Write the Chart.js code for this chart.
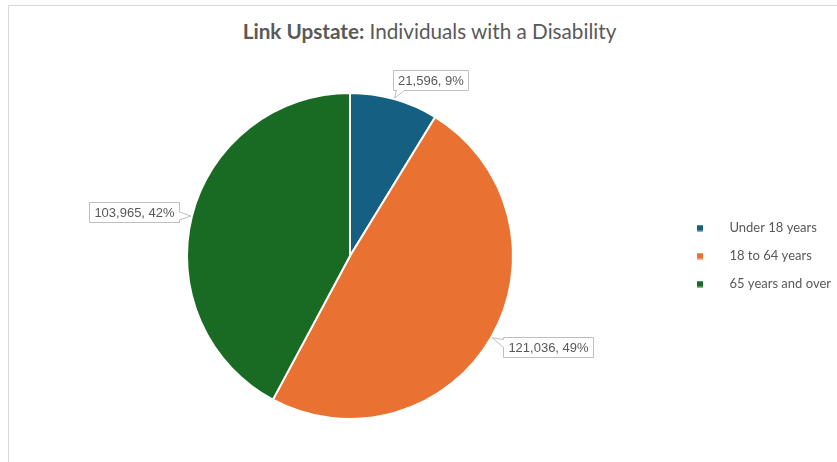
<!DOCTYPE html>
<html>
<head>
<meta charset="utf-8">
<script src="https://cdn.jsdelivr.net/npm/chart.js@4.4.1/dist/chart.umd.min.js"></script>
<style>
  html, body { margin: 0; padding: 0; background: #ffffff; overflow: hidden; }
  #wrap { position: relative; width: 837px; height: 462px; overflow: hidden; }
  #frame { position: absolute; left: 8px; top: 5px; width: 900px; height: 520px;
           border: 1.5px solid #d9d9d9; box-sizing: border-box; }
  #title { position: absolute; left: 0; top: 19px; width: 859px; text-align: center;
           font-family: "Lato", "Open Sans", sans-serif; font-size: 20.7px; color: #595959;
           white-space: nowrap; }
  #title b { font-weight: 700; }
  #chart { position: absolute; left: 0; top: 0; }
</style>
</head>
<body>
<div id="wrap">
  <div id="frame"></div>
  <div id="title"><b>Link Upstate:</b> Individuals with a Disability</div>
  <canvas id="chart" width="837" height="462"></canvas>
</div>
<script>
// ---- data ----
const categories = ['Under 18 years', '18 to 64 years', '65 years and over'];
const values = [21596, 121036, 103965];

// ---- styling ----
const sliceColors = ['#156082', '#E97132', '#196B24'];
// callout box centre offsets from the slice's outer-edge midpoint (pixels)
const calloutOffsets = [[36, -18.5], [55.5, 9], [-57, -4.5]];

function legendSwatch(color) {
  const c = document.createElement('canvas');
  c.width = 26; c.height = 7;
  const g = c.getContext('2d');
  g.fillStyle = color;
  g.fillRect(0, 0.5, 6, 6);
  return c;
}
const swatches = sliceColors.map(legendSwatch);

function clamp(v, a, b) { return Math.max(a, Math.min(b, v)); }

function calloutPath(ctx, L, T, R, B, tx, ty) {
  const dxOut = tx < L ? L - tx : (tx > R ? tx - R : 0);
  const dyOut = ty < T ? T - ty : (ty > B ? ty - B : 0);
  let side;
  if (dxOut >= dyOut) side = tx < L ? 'left' : 'right';
  else side = ty < T ? 'top' : 'bottom';
  const hw = 4;
  ctx.beginPath();
  ctx.moveTo(L, T);
  if (side === 'top') { const c = clamp(tx, L + hw + 3, R - hw - 3); ctx.lineTo(c - hw, T); ctx.lineTo(tx, ty); ctx.lineTo(c + hw, T); }
  ctx.lineTo(R, T);
  if (side === 'right') { const c = clamp(ty, T + hw + 2, B - hw - 2); ctx.lineTo(R, c - hw); ctx.lineTo(tx, ty); ctx.lineTo(R, c + hw); }
  ctx.lineTo(R, B);
  if (side === 'bottom') { const c = clamp(tx, L + hw + 3, R - hw - 3); ctx.lineTo(c + hw, B); ctx.lineTo(tx, ty); ctx.lineTo(c - hw, B); }
  ctx.lineTo(L, B);
  if (side === 'left') { const c = clamp(ty, T + hw + 2, B - hw - 2); ctx.lineTo(L, c + hw); ctx.lineTo(tx, ty); ctx.lineTo(L, c - hw); }
  ctx.closePath();
}

const calloutPlugin = {
  id: 'callouts',
  afterDatasetsDraw(chart) {
    const ctx = chart.ctx;
    const ds = chart.data.datasets[0];
    const total = ds.data.reduce((a, b) => a + b, 0);
    const meta = chart.getDatasetMeta(0);
    ctx.save();
    ctx.font = '13px "Liberation Sans", Arial, sans-serif';
    ctx.textAlign = 'center';
    ctx.textBaseline = 'middle';
    meta.data.forEach((arc, i) => {
      const p = arc.getProps(['x', 'y', 'startAngle', 'endAngle', 'outerRadius'], true);
      const mid = (p.startAngle + p.endAngle) / 2;
      const ax = p.x + Math.cos(mid) * (p.outerRadius + 1);
      const ay = p.y + Math.sin(mid) * (p.outerRadius + 1);
      const v = ds.data[i];
      const text = v.toLocaleString('en-US') + ', ' + Math.round(v / total * 100) + '%';
      const tw = ctx.measureText(text).width;
      const w = tw + 10, h = 20;
      const cx = ax + calloutOffsets[i][0], cy = ay + calloutOffsets[i][1];
      const L = Math.round(cx - w / 2) + 0.5, T = Math.round(cy - h / 2) + 0.5;
      const R = Math.round(cx + w / 2) + 0.5, B = Math.round(cy + h / 2) + 0.5;
      calloutPath(ctx, L, T, R, B, ax, ay);
      ctx.fillStyle = '#ffffff';
      ctx.fill();
      ctx.lineWidth = 1;
      ctx.strokeStyle = '#bfbfbf';
      ctx.stroke();
      ctx.fillStyle = '#595959';
      ctx.fillText(text, (L + R) / 2, (T + B) / 2 + 0.5);
    });
    ctx.restore();
  }
};

new Chart(document.getElementById('chart'), {
  type: 'pie',
  data: {
    labels: categories,
    datasets: [{
      data: values,
      backgroundColor: sliceColors,
      borderColor: '#ffffff',
      borderWidth: 2,
      radius: 163,
      hoverOffset: 0
    }]
  },
  options: {
    responsive: false,
    animation: false,
    layout: { padding: { left: 18, top: 50, right: -4, bottom: 0 } },
    plugins: {
      title: { display: false },
      tooltip: { enabled: false },
      legend: {
        position: 'right',
        labels: {
          usePointStyle: true,
          pointStyleWidth: 26,
          boxHeight: 7,
          padding: 15,
          color: '#595959',
          font: { family: 'Lato', size: 13 },
          generateLabels(chart) {
            const items = Chart.overrides.pie.plugins.legend.labels.generateLabels(chart);
            items.forEach((it, i) => { it.pointStyle = swatches[i]; it.lineWidth = 0; it.strokeStyle = 'rgba(0,0,0,0)'; });
            return items;
          }
        }
      }
    }
  },
  plugins: [calloutPlugin]
});
</script>
</body>
</html>
